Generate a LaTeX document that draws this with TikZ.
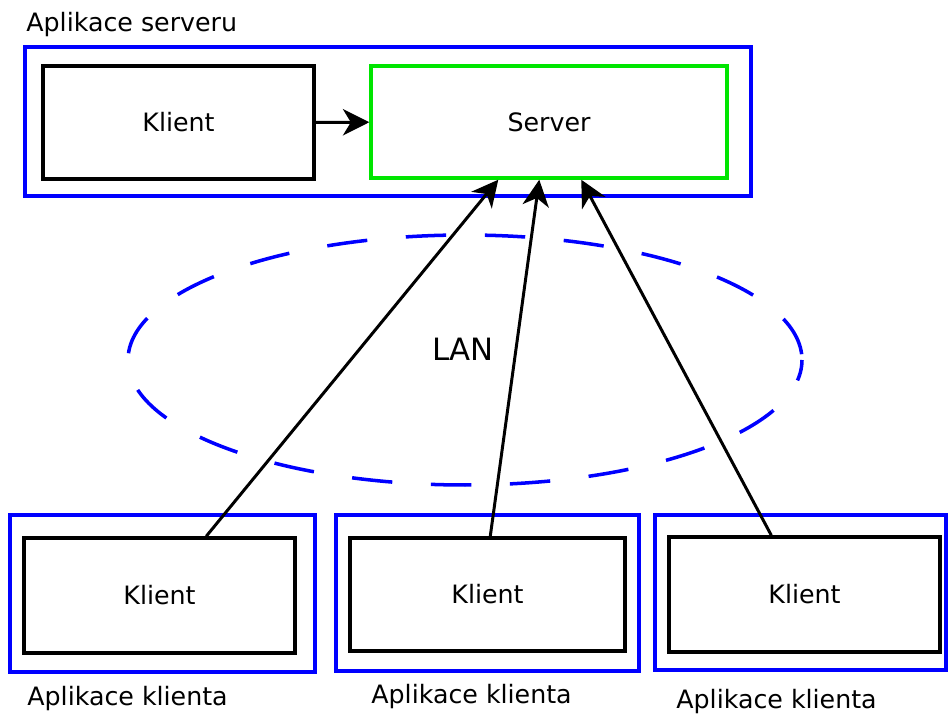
\documentclass[tikz,border=0pt]{standalone}
\usepackage{fontspec}
\setmainfont{DejaVu Sans}
\usetikzlibrary{arrows.meta}
\begin{document}
\begin{tikzpicture}[x=0.02cm,y=-0.02cm,
  txt/.style={font=\fontsize{14.4}{16}\selectfont},
  appbox/.style={draw=blue,line width=2pt,inner sep=0pt},
  innerbox/.style={draw=black,line width=2pt,inner sep=0pt,txt},
  srvbox/.style={draw=green!90!black,line width=2pt,inner sep=0pt,txt},
  lbl/.style={txt,inner sep=0pt,anchor=west},
  conn/.style={line width=1.7pt,-{Stealth[length=15pt,width=15pt,inset=4.5pt]}}]
\useasboundingbox (0,0) rectangle (948,715);
% server application
\node[appbox,minimum width=14.52cm,minimum height=2.98cm] (app0) at (388,121.5) {};
\node[lbl] (lsrv) at (26,25) {Aplikace serveru};
\node[innerbox,minimum width=5.42cm,minimum height=2.26cm] (k0) at (178.5,122.5) {Klient};
\node[srvbox,minimum width=7.12cm,minimum height=2.24cm] (srv) at (549,122) {Server};
\draw[conn] (k0) -- (srv);
% network
\draw[blue,line width=2pt,dash pattern=on 23pt off 22pt,dash phase=11pt] (465,360) ellipse [x radius=337,y radius=125];
\node[font=\fontsize{17.5}{20}\selectfont] (lan) at (463,349) {LAN};
% client applications
\node[appbox,minimum width=6.10cm,minimum height=3.14cm] (app1) at (162.5,593.5) {};
\node[innerbox,minimum width=5.42cm,minimum height=2.30cm] (k1) at (159.5,595.5) {Klient};
\node[lbl] (l1) at (27,699) {Aplikace klienta};
\node[appbox,minimum width=6.06cm,minimum height=3.12cm] (app2) at (487.5,593) {};
\node[innerbox,minimum width=5.50cm,minimum height=2.26cm] (k2) at (487.5,594.5) {Klient};
\node[lbl] (l2) at (371,697) {Aplikace klienta};
\node[appbox,minimum width=5.82cm,minimum height=3.10cm] (app3) at (800.5,592.5) {};
\node[innerbox,minimum width=5.42cm,minimum height=2.30cm] (k3) at (804.5,594.5) {Klient};
\node[lbl] (l3) at (676,702) {Aplikace klienta};
% connector end points on the box edges
\path (k1.north west) ++(184,0) coordinate (c1);
\path (k2.north west) ++(142,0) coordinate (c2);
\path (k3.north west) ++(104,0) coordinate (c3);
\path (srv.south west) ++(129,0) coordinate (s1);
\path (srv.south west) ++(170,0) coordinate (s2);
\path (srv.south west) ++(212,0) coordinate (s3);
\draw[conn] (c1) -- (s1);
\draw[conn] (c2) -- (s2);
\draw[conn] (c3) -- (s3);
\end{tikzpicture}
\end{document}
